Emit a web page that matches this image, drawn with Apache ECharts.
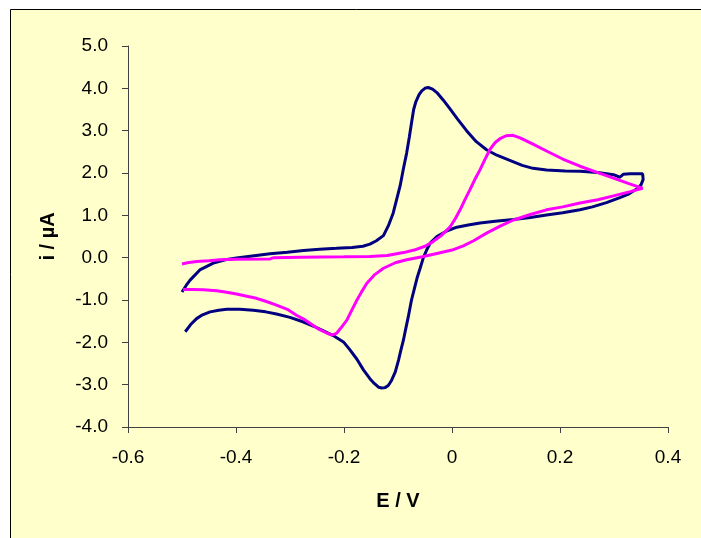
<!DOCTYPE html>
<html>
<head>
<meta charset="utf-8">
<script src="https://cdn.jsdelivr.net/npm/echarts@6/dist/echarts.min.js"></script>
<style>
html,body{margin:0;padding:0;background:#ffffff;}
#chart{width:701px;height:538px;}
</style>
</head>
<body>
<div id="chart"></div>
<script>
// Axis ticks
var xTicks = [-0.6, -0.4, -0.2, 0, 0.2, 0.4];
var yTicks = [-4, -3, -2, -1, 0, 1, 2, 3, 4, 5];
var xTitle = 'E / V';
var yTitle = 'i / µA';

// Series 1 (navy): [E (V), i (µA)]
var scanBlue = [
[-0.500,-0.81],[-0.492,-0.65],[-0.485,-0.53],[-0.467,-0.29],[-0.442,-0.13],[-0.420,-0.05],[-0.399,-0.01],
[-0.370,0.04],[-0.337,0.09],[-0.305,0.13],[-0.275,0.17],[-0.245,0.20],[-0.214,0.22],[-0.185,0.24],
[-0.165,0.27],[-0.152,0.32],[-0.140,0.40],[-0.127,0.52],[-0.118,0.75],[-0.109,1.05],[-0.102,1.40],
[-0.096,1.70],[-0.090,2.10],[-0.084,2.47],[-0.079,2.85],[-0.075,3.18],[-0.071,3.50],[-0.067,3.68],
[-0.061,3.85],[-0.056,3.94],[-0.049,4.01],[-0.044,4.02],[-0.036,3.98],[-0.028,3.90],[-0.016,3.72],
[-0.004,3.52],[0.010,3.28],[0.027,3.00],[0.045,2.74],[0.064,2.55],[0.083,2.42],[0.107,2.30],
[0.130,2.18],[0.150,2.11],[0.175,2.07],[0.210,2.05],[0.237,2.04],[0.270,2.01],[0.299,1.96],
[0.311,1.90],[0.317,1.97],[0.330,1.98],[0.353,1.98],[0.354,1.85],[0.350,1.72],[0.342,1.62],
[0.328,1.51],[0.311,1.42],[0.286,1.30],[0.260,1.20],[0.237,1.13],[0.205,1.06],[0.175,1.01],
[0.145,0.95],[0.114,0.90],[0.080,0.86],[0.052,0.82],[0.030,0.77],[0.009,0.72],[-0.010,0.63],
[-0.028,0.50],[-0.040,0.35],[-0.047,0.18],[-0.053,0.00],[-0.059,-0.25],[-0.064,-0.45],[-0.070,-0.75],
[-0.075,-1.00],[-0.081,-1.40],[-0.086,-1.70],[-0.090,-1.95],[-0.095,-2.20],[-0.099,-2.42],[-0.105,-2.70],
[-0.112,-2.90],[-0.118,-3.02],[-0.124,-3.07],[-0.130,-3.08],[-0.136,-3.06],[-0.144,-2.97],[-0.152,-2.86],
[-0.164,-2.65],[-0.176,-2.40],[-0.190,-2.16],[-0.201,-1.99],[-0.220,-1.84],[-0.238,-1.73],[-0.256,-1.62],
[-0.275,-1.52],[-0.300,-1.41],[-0.325,-1.33],[-0.345,-1.28],[-0.368,-1.24],[-0.393,-1.22],[-0.417,-1.22],
[-0.432,-1.24],[-0.448,-1.28],[-0.462,-1.35],[-0.473,-1.44],[-0.484,-1.58],[-0.494,-1.75]
];

// Series 2 (magenta): [E (V), i (µA)]
var scanMagenta = [
[-0.500,-0.15],[-0.490,-0.12],[-0.473,-0.09],[-0.450,-0.07],[-0.430,-0.05],[-0.400,-0.04],[-0.337,-0.03],
[-0.330,0.00],[-0.280,0.01],[-0.200,0.02],[-0.152,0.03],[-0.120,0.05],[-0.090,0.12],[-0.070,0.18],
[-0.050,0.27],[-0.035,0.38],[-0.020,0.52],[-0.004,0.72],[0.006,0.92],[0.015,1.13],[0.024,1.37],
[0.033,1.60],[0.042,1.84],[0.052,2.08],[0.061,2.32],[0.070,2.55],[0.080,2.72],[0.090,2.82],
[0.100,2.88],[0.113,2.89],[0.126,2.83],[0.150,2.68],[0.175,2.52],[0.205,2.33],[0.237,2.16],
[0.270,2.01],[0.299,1.88],[0.325,1.76],[0.348,1.66],[0.353,1.64],
[0.330,1.56],[0.299,1.46],[0.270,1.37],[0.237,1.29],[0.205,1.20],[0.175,1.13],[0.145,1.02],
[0.114,0.89],[0.090,0.75],[0.064,0.58],[0.040,0.40],[0.021,0.28],[0.000,0.18],[-0.028,0.10],
[-0.055,0.02],[-0.084,-0.05],[-0.105,-0.12],[-0.127,-0.25],[-0.143,-0.40],[-0.158,-0.61],[-0.168,-0.82],
[-0.176,-1.00],[-0.186,-1.25],[-0.195,-1.48],[-0.207,-1.68],[-0.214,-1.79],[-0.222,-1.83],[-0.232,-1.78],
[-0.245,-1.70],[-0.257,-1.60],[-0.272,-1.47],[-0.288,-1.36],[-0.305,-1.22],[-0.325,-1.12],[-0.345,-1.03],
[-0.362,-0.96],[-0.380,-0.91],[-0.399,-0.86],[-0.420,-0.81],[-0.436,-0.78],[-0.460,-0.76],[-0.480,-0.75],
[-0.498,-0.75]
];

var chart = echarts.init(document.getElementById('chart'), null, {renderer: 'canvas'});
var font = 'Arial, "Liberation Sans", sans-serif';
chart.setOption({
  animation: false,
  backgroundColor: '#ffffff',
  graphic: [{
    type: 'rect', z: -10, silent: true,
    shape: {x: 10.5, y: 9.5, width: 700, height: 540},
    style: {fill: '#FFFFCC', stroke: '#000000', lineWidth: 1}
  }],
  grid: {left: 128, right: 33, top: 46, bottom: 111, containLabel: false},
  xAxis: {
    type: 'value',
    min: xTicks[0], max: xTicks[xTicks.length - 1], interval: 0.2,
    name: xTitle, nameLocation: 'middle', nameGap: 64,
    nameTextStyle: {fontFamily: font, fontWeight: 'bold', fontSize: 20, color: '#000'},
    axisLine: {onZero: false, lineStyle: {color: '#404040', width: 1}},
    axisTick: {show: true, inside: false, length: 6, lineStyle: {color: '#404040'}},
    axisLabel: {
      fontFamily: font, fontSize: 19, color: '#000', margin: 21,
      formatter: function (v) { return Math.abs(v) < 1e-9 ? '0' : v.toFixed(1); }
    },
    splitLine: {show: false}
  },
  yAxis: {
    type: 'value',
    min: yTicks[0], max: yTicks[yTicks.length - 1], interval: 1,
    name: yTitle, nameLocation: 'middle', nameGap: 70, nameRotate: 90,
    nameTextStyle: {fontFamily: font, fontWeight: 'bold', fontSize: 20, color: '#000'},
    axisLine: {onZero: false, lineStyle: {color: '#404040', width: 1}},
    axisTick: {show: true, inside: false, length: 6, lineStyle: {color: '#404040'}},
    axisLabel: {
      fontFamily: font, fontSize: 19, color: '#000', margin: 20,
      formatter: function (v) { return v.toFixed(1); }
    },
    splitLine: {show: false}
  },
  series: [
    {type: 'line', data: scanBlue, showSymbol: false, smooth: false, z: 3,
     lineStyle: {color: '#000080', width: 3}, itemStyle: {color: '#000080'}},
    {type: 'line', data: scanMagenta, showSymbol: false, smooth: false, z: 4,
     lineStyle: {color: '#FF00FF', width: 3}, itemStyle: {color: '#FF00FF'}}
  ]
});
</script>
</body>
</html>
